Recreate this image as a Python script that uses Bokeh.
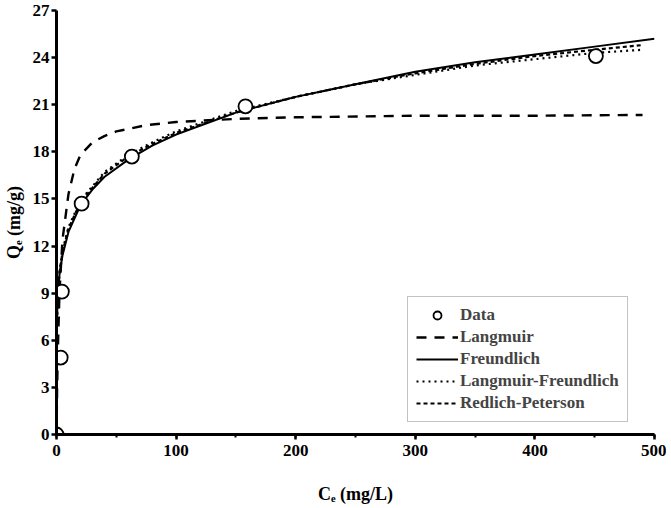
from bokeh.plotting import figure
from bokeh.models import SingleIntervalTicker, Legend, LegendItem, Range1d
from bokeh.embed import file_html
from bokeh.resources import INLINE

# Experimental data
data_ce = [0, 3.5, 4.5, 21, 63, 158, 451]
data_qe = [0, 4.9, 9.1, 14.7, 17.7, 20.9, 24.1]

# Model curves
lang_ce = [0, 0.5, 1, 2.5, 5, 10, 15, 20, 30, 40, 50, 75, 100, 150, 200, 300, 400, 490]
lang_qe = [0, 2.8, 5.0, 9.1, 12.4, 15.3, 16.9, 17.8, 18.6, 19.0, 19.3, 19.7, 19.9, 20.1, 20.2, 20.3, 20.3, 20.35]

freu_ce = [0, 0.05, 0.3, 1, 2.5, 5, 10, 20, 30, 40, 60, 80, 100, 150, 200, 250, 300, 350, 400, 450, 500]
freu_qe = [0, 5.3, 7.1, 8.8, 10.2, 11.4, 12.9, 14.6, 15.6, 16.4, 17.5, 18.4, 19.1, 20.5, 21.5, 22.3, 23.1, 23.7, 24.2, 24.7, 25.2]

lf_ce = [0, 0.3, 1, 2.5, 5, 10, 20, 40, 60, 80, 100, 150, 200, 250, 300, 350, 400, 450, 490]
lf_qe = [0, 6.8, 8.7, 10.3, 11.7, 13.2, 14.9, 16.7, 17.8, 18.6, 19.3, 20.6, 21.5, 22.3, 22.9, 23.5, 23.9, 24.3, 24.5]

rp_ce = [0, 0.3, 1, 2.5, 5, 10, 20, 40, 60, 80, 100, 150, 200, 250, 300, 350, 400, 450, 490]
rp_qe = [0, 6.9, 8.8, 10.3, 11.6, 13.1, 14.8, 16.6, 17.7, 18.5, 19.2, 20.5, 21.5, 22.3, 23.0, 23.6, 24.1, 24.5, 24.8]

FONT = "Liberation Serif"

p = figure(width=666, height=506, output_backend="svg", toolbar_location=None,
           x_range=Range1d(0, 500), y_range=Range1d(0, 27),
           min_border_left=56, min_border_right=12, min_border_top=10, min_border_bottom=68)
p.outline_line_color = None
p.grid.visible = False
p.background_fill_color = "white"

r_lang = p.line(lang_ce, lang_qe, line_color="black", line_width=2.4, line_dash="10 8")
r_freu = p.line(freu_ce, freu_qe, line_color="black", line_width=2)
r_lf = p.line(lf_ce, lf_qe, line_color="black", line_width=2.2, line_dash="2 4")
r_rp = p.line(rp_ce, rp_qe, line_color="black", line_width=2.2, line_dash="4 3")
r_data = p.scatter(data_ce, data_qe, marker="circle", size=14, line_color="black",
                   line_width=1.8, fill_color="white")

p.xaxis.ticker = SingleIntervalTicker(interval=100, num_minor_ticks=2)
p.yaxis.ticker = SingleIntervalTicker(interval=3, num_minor_ticks=0)

for ax in (p.xaxis[0], p.yaxis[0]):
    ax.axis_line_width = 3
    ax.axis_line_color = "black"
    ax.major_tick_line_width = 2.5
    ax.major_tick_in = 0
    ax.major_tick_out = 5
    ax.minor_tick_line_width = 2
    ax.minor_tick_in = 0
    ax.minor_tick_out = 3
    ax.major_label_text_font = FONT
    ax.major_label_text_font_style = "bold"
    ax.major_label_text_font_size = "17px"
    ax.major_label_text_color = "black"
    ax.axis_label_text_font = FONT
    ax.axis_label_text_font_style = "bold"
    ax.axis_label_text_font_size = "18px"
    ax.axis_label_text_color = "black"

p.xaxis.axis_label = "Cₑ (mg/L)"
p.yaxis.axis_label = "Qₑ (mg/g)"
p.xaxis.major_label_standoff = 5
p.xaxis.axis_label_standoff = 25
p.yaxis.major_label_standoff = 2
p.yaxis.axis_label_standoff = 6

legend = Legend(items=[
    LegendItem(label="Data", renderers=[r_data]),
    LegendItem(label="Langmuir", renderers=[r_lang]),
    LegendItem(label="Freundlich", renderers=[r_freu]),
    LegendItem(label="Langmuir-Freundlich", renderers=[r_lf]),
    LegendItem(label="Redlich-Peterson", renderers=[r_rp]),
], location=(351, 12))
legend.label_text_font = FONT
legend.label_text_font_style = "bold"
legend.label_text_font_size = "17px"
legend.label_height = 20
legend.glyph_height = 20
legend.glyph_width = 42
legend.label_standoff = 2
legend.spacing = 2
legend.padding = 8
legend.margin = 0
legend.border_line_color = "#888888"
legend.border_line_width = 1.5
legend.background_fill_alpha = 1
p.add_layout(legend, "center")

open("out.html", "w").write(file_html(p, INLINE))
